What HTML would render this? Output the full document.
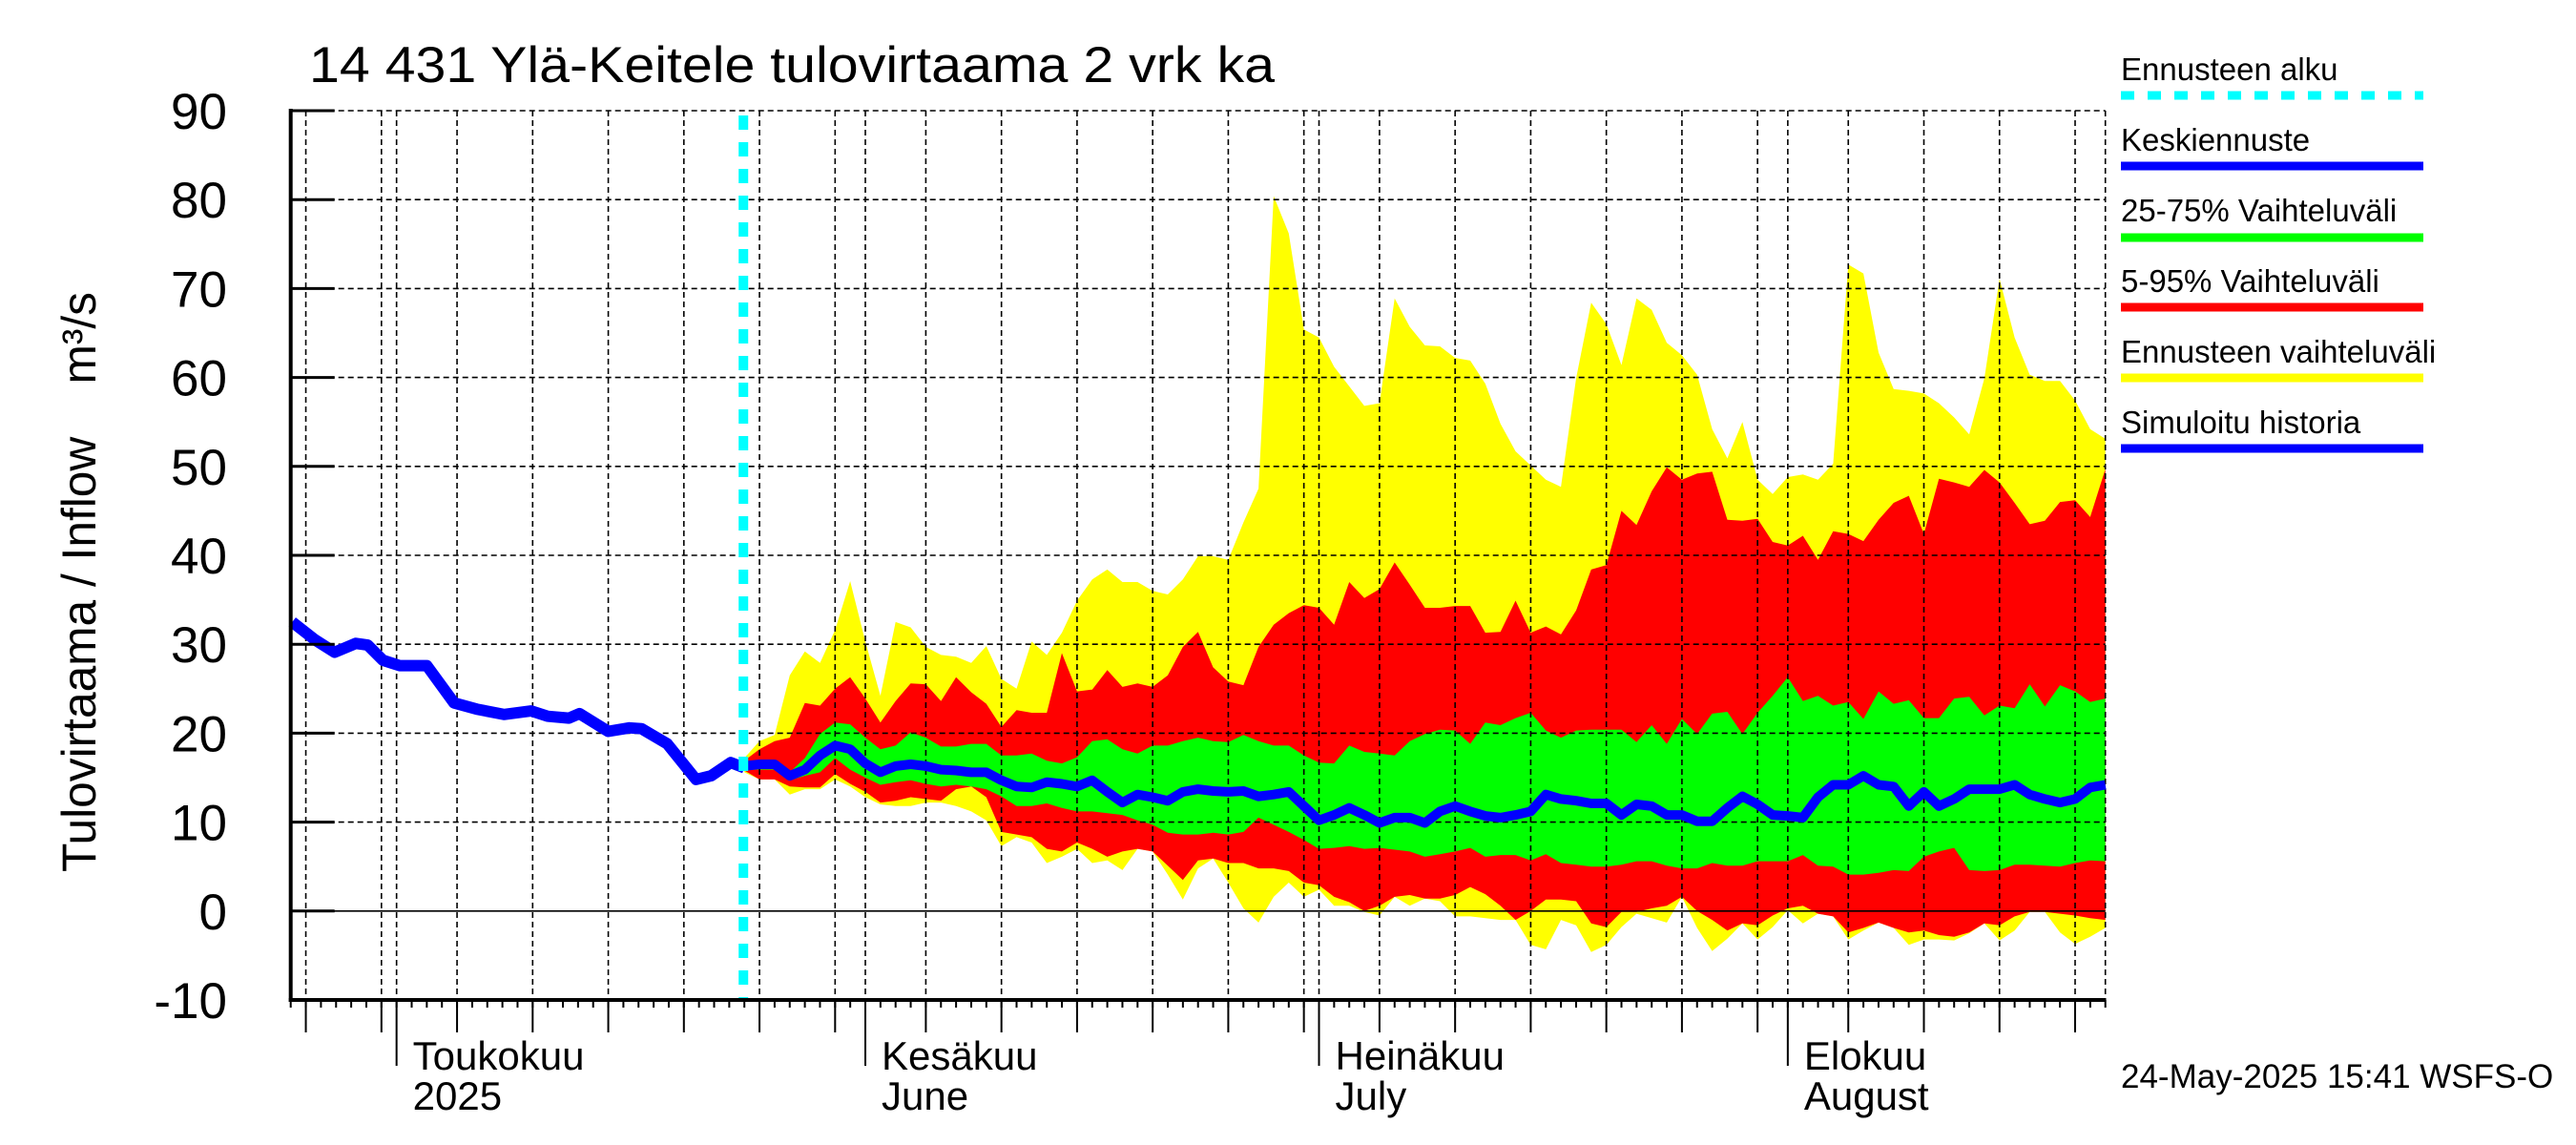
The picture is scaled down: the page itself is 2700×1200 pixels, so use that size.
<!DOCTYPE html>
<html><head><meta charset="utf-8"><title>Ylä-Keitele tulovirtaama</title>
<style>html,body{margin:0;padding:0;background:#fff}svg{display:block}text{font-family:"Liberation Sans",Arial,sans-serif;fill:#000}</style>
</head><body>
<svg id="chart" width="2700" height="1200" viewBox="0 0 2700 1200" xmlns="http://www.w3.org/2000/svg">
<text x="324" y="86" font-size="53" textLength="1012" lengthAdjust="spacingAndGlyphs">14 431 Ylä-Keitele tulovirtaama 2 vrk ka</text>
<text transform="translate(100,610) rotate(-90)" text-anchor="middle" font-size="50" xml:space="preserve" textLength="608" lengthAdjust="spacingAndGlyphs">Tulovirtaama / Inflow    m³/s</text>
<g id="bands"></g><g id="grid"></g><g id="lines"></g><g id="axes"></g>
<g font-size="33">
<text x="2223" y="84">Ennusteen alku</text>
<line x1="2223" y1="100" x2="2540" y2="100" stroke="#00ffff" stroke-width="9" stroke-dasharray="14 14"/>
<text x="2223" y="158">Keskiennuste</text>
<line x1="2223" y1="174" x2="2540" y2="174" stroke="#0000ff" stroke-width="9"/>
<text x="2223" y="232">25-75% Vaihteluväli</text>
<line x1="2223" y1="249" x2="2540" y2="249" stroke="#00ff00" stroke-width="9"/>
<text x="2223" y="306">5-95% Vaihteluväli</text>
<line x1="2223" y1="322" x2="2540" y2="322" stroke="#ff0000" stroke-width="9"/>
<text x="2223" y="380">Ennusteen vaihteluväli</text>
<line x1="2223" y1="396" x2="2540" y2="396" stroke="#ffff00" stroke-width="9"/>
<text x="2223" y="454">Simuloitu historia</text>
<line x1="2223" y1="470" x2="2540" y2="470" stroke="#0000ff" stroke-width="9"/>
</g>
<text x="2223" y="1140" font-size="35">24-May-2025 15:41 WSFS-O</text>
</svg>
<script>
// Data (day index 0 = 24 Apr 2025)
const histDays = [0.1,1.6,2.9,4.3,5.1,6.1,7.2,9.0,10.8,12.3,14.1,15.9,17.0,18.4,19.1,21.0,22.4,23.2,24.9,26.8,27.8,29.1,30.0];
const histVals = [32.5,30.5,29.1,30.1,29.9,28.2,27.6,27.6,23.4,22.7,22.1,22.5,21.9,21.7,22.2,20.2,20.6,20.5,18.8,14.8,15.2,16.7,16.1];
const fcStartDay = 30;
const yTop = [17.2,19.1,19.8,26.5,29.2,27.9,31.6,37.1,30.3,24.2,32.5,31.9,29.7,28.8,28.6,27.9,29.8,26.1,25.0,30.3,28.8,31.3,34.9,37.3,38.4,37.0,37.0,36.0,35.6,37.3,
39.9,39.9,39.5,43.7,47.5,80.4,76.2,65.4,64.5,61.2,59.0,56.8,57.1,68.9,65.7,63.6,63.5,62.2,61.9,59.3,54.8,51.7,50.1,48.5,47.7,59.9,68.4,66.0,61.4,68.9,
67.6,63.9,62.5,60.3,54.2,50.9,55.0,48.5,46.9,48.8,49.1,48.5,50.3,72.7,71.7,62.8,58.7,58.5,58.2,57.1,55.5,53.6,59.9,71.1,64.5,60.3,59.6,59.6,57.4,54.2,53.1];
const rTop = [16.9,18.2,19.1,19.5,23.4,23.1,25.0,26.3,23.9,21.2,23.6,25.6,25.5,23.6,26.3,24.6,23.3,20.7,22.6,22.3,22.3,29.0,24.7,24.9,27.1,25.2,25.6,25.2,26.5,29.7,
31.4,27.4,25.8,25.4,29.7,32.2,33.5,34.4,34.1,32.2,37.0,35.2,36.2,39.2,36.7,34.1,34.1,34.3,34.3,31.3,31.4,34.9,31.3,32.0,31.1,33.8,38.4,38.9,45.0,43.4,
47.2,49.9,48.5,49.2,49.4,44.0,43.9,44.1,41.5,41.1,42.2,39.5,42.7,42.4,41.6,44.0,45.9,46.7,42.4,48.6,48.2,47.7,49.6,48.2,45.9,43.5,43.9,46.0,46.2,44.3,49.7];
const gTop = [16.7,16.9,16.9,15.6,17.2,19.9,21.2,21.0,19.5,18.2,18.6,20.1,19.5,18.5,18.5,18.8,18.8,17.5,17.5,17.7,16.9,16.6,17.3,19.1,19.3,18.2,17.7,18.6,18.6,19.1,
19.5,19.1,19.0,19.8,19.1,18.6,18.6,17.5,16.7,16.6,18.6,17.9,17.7,17.5,19.1,19.9,20.4,20.3,18.8,21.2,20.9,21.7,22.3,20.3,19.5,20.3,20.4,20.4,20.4,19.0,
20.9,18.8,21.6,19.9,22.2,22.4,19.9,22.3,24.2,26.3,23.6,24.2,23.1,23.5,21.6,24.7,23.3,23.7,21.7,21.7,23.9,24.1,22.0,23.1,22.8,25.5,23.0,25.4,24.7,23.5,23.9];
const median = [16.3,16.5,16.5,15.2,15.9,17.5,18.6,18.2,16.6,15.6,16.3,16.5,16.3,15.9,15.8,15.6,15.6,14.7,14.0,13.9,14.5,14.3,14.0,14.7,13.4,12.2,13.1,12.8,12.4,13.4,
13.7,13.5,13.4,13.5,12.9,13.1,13.4,11.8,10.2,10.8,11.6,10.8,9.9,10.5,10.5,9.9,11.2,11.8,11.2,10.7,10.5,10.8,11.2,13.1,12.6,12.4,12.1,12.1,10.8,12.0,
11.8,10.8,10.8,10.1,10.1,11.6,12.9,12.0,10.8,10.7,10.5,12.8,14.2,14.2,15.2,14.2,14.0,11.8,13.4,11.8,12.6,13.7,13.7,13.7,14.2,13.1,12.6,12.2,12.6,13.9,14.2];
const gBot = [15.9,15.9,15.9,14.7,15.2,15.6,17.2,15.9,15.0,14.2,14.5,14.7,14.3,14.0,14.2,14.0,13.7,12.9,11.8,11.8,12.1,11.6,11.2,11.2,11.0,10.8,10.2,9.7,8.8,8.6,
8.6,8.8,8.6,8.9,10.5,9.7,8.9,8.0,7.0,7.1,7.3,7.0,7.1,6.9,6.7,6.1,6.4,6.7,7.1,6.1,6.3,6.3,5.7,6.4,5.4,5.2,5.0,5.0,5.2,5.6,
5.6,5.1,4.8,4.8,5.4,5.1,5.1,5.6,5.6,5.6,6.3,5.1,5.0,4.1,4.1,4.3,4.6,4.5,6.1,6.7,7.1,4.6,4.5,4.6,5.2,5.2,5.1,5.0,5.4,5.7,5.6];
const rBot = [15.8,14.8,14.8,14.0,13.9,13.9,15.4,14.3,13.4,12.2,12.4,12.8,12.6,12.4,13.7,14.0,12.8,8.9,8.6,8.3,7.0,6.7,7.7,7.0,6.1,6.7,7.0,6.7,5.1,3.5,
5.7,5.9,5.4,5.4,4.8,4.8,4.5,3.2,2.9,1.6,1.0,0,0.6,1.6,1.8,1.4,1.4,1.8,2.7,1.9,0.6,-1.0,0,1.3,1.3,1.1,-1.4,-1.8,-0.1,-0.1,
0.3,0.6,1.6,0,-1.0,-2.2,-1.4,-1.6,-0.5,0.3,0.6,-0.3,-0.6,-2.4,-1.9,-1.3,-1.9,-2.4,-2.2,-2.7,-2.9,-2.4,-1.4,-1.6,-0.6,-0.1,-0.1,-0.3,-0.5,-0.8,-1.0];
const yBot = [15.6,14.8,14.8,13.1,13.7,13.7,14.8,14.0,12.8,12.0,11.8,11.8,12.2,12.2,11.8,11.2,10.2,7.3,8.3,7.7,5.4,6.1,7.0,5.4,5.7,4.6,7.0,6.7,4.1,1.3,
4.8,5.9,3.2,0.3,-1.3,1.6,3.2,1.6,2.4,0.6,0.6,-0.1,-0.5,1.6,0.6,1.4,1.1,-0.6,-0.6,-0.8,-1.0,-1.0,-3.8,-4.3,-1.0,-1.6,-4.6,-3.8,-1.8,-0.3,
-0.8,-1.3,1.6,-1.9,-4.5,-3.1,-1.4,-3.2,-1.8,0.1,-1.4,-0.3,-0.6,-3.2,-2.2,-1.3,-1.9,-3.8,-3.2,-3.2,-3.3,-2.5,-1.4,-3.3,-2.2,-0.1,-0.1,-2.4,-3.7,-2.9,-1.9];
const yTicks = [90,80,70,60,50,40,30,20,10,0,-10];
const monthStarts = [7,38,68,99];
const monthNames = ["Toukokuu","Kesäkuu","Heinäkuu","Elokuu"];
const monthNames2 = ["2025","June","July","August"];
const monthOffsets = [-23,7,38,68,99]; // day index of 1st of Apr..Aug
const gridDaysOfMonth = [1,5,10,15,20,25,30];

const NS="http://www.w3.org/2000/svg";
const X0=304.7, DX=15.85, YB=1048, DY=9.32, DMAX=120;
function X(d){return X0+DX*d;}
function Y(v){return YB-(v+10)*DY;}
function mk(tag,attrs,parent){const e=document.createElementNS(NS,tag);for(const k in attrs)e.setAttribute(k,attrs[k]);parent.appendChild(e);return e;}
const bands=document.getElementById('bands'),grid=document.getElementById('grid'),lines=document.getElementById('lines'),axes=document.getElementById('axes');

function band(top,bot,color,name){
  let pts=[];
  top.forEach((v,i)=>pts.push(X(fcStartDay+i).toFixed(1)+','+Y(v).toFixed(1)));
  for(let i=bot.length-1;i>=0;i--)pts.push(X(fcStartDay+i).toFixed(1)+','+Y(bot[i]).toFixed(1));
  const p=mk('polygon',{points:pts.join(' '),fill:color},bands);
  
  
}
band(yTop,yBot,'#ffff00','band-forecast-range');
band(rTop,rBot,'#ff0000','band-5-95');
band(gTop,gBot,'#00ff00','band-25-75');

yTicks.forEach(v=>{
  if(v===-10)return;
  const l=mk('line',{x1:X0,x2:X(DMAX),y1:Y(v),y2:Y(v),stroke:'#000','stroke-width':1.6,'stroke-dasharray':v===0?'none':'6 4'},grid);
  
  
  const t=mk('line',{x1:X0,x2:X0+46,y1:Y(v),y2:Y(v),stroke:'#000','stroke-width':3},axes);
  
  
});
yTicks.forEach(v=>{
  const tx=mk('text',{x:238,y:Y(v)+19,'text-anchor':'end','font-size':53},axes);
  tx.textContent=String(v);
  
  
});
const gridDays=[];
monthOffsets.forEach(m=>{
  gridDaysOfMonth.forEach(dom=>{const d=m+dom-1;if(d>0&&d<DMAX)gridDays.push({d:d,month:dom===1});});
});
gridDays.forEach(g=>{
  const l=mk('line',{x1:X(g.d),x2:X(g.d),y1:Y(90),y2:YB,stroke:'#000','stroke-width':1.6,'stroke-dasharray':'6 4'},grid);
  
  
  const t=mk('line',{x1:X(g.d),x2:X(g.d),y1:YB,y2:YB+(g.month?69:34),stroke:'#000','stroke-width':2},axes);
  
  
});
for(let d=0;d<=DMAX;d++){
  const t=mk('line',{x1:X(d),x2:X(d),y1:YB,y2:YB+8,stroke:'#000','stroke-width':2},axes);
  
  
}
const rb=mk('line',{x1:X(DMAX),x2:X(DMAX),y1:Y(90),y2:YB,stroke:'#000','stroke-width':1.6,'stroke-dasharray':'6 4'},grid);


monthStarts.forEach((d,i)=>{
  const t1=mk('text',{x:X(d)+17,y:1121,'font-size':42},axes);
  t1.textContent=monthNames[i];
  
  
  const t2=mk('text',{x:X(d)+17,y:1163,'font-size':42},axes);
  t2.textContent=monthNames2[i];
  
  
});
const ax1=mk('line',{x1:X0,x2:X0,y1:Y(90)-2,y2:YB+2,stroke:'#000','stroke-width':4},axes);


const ax2=mk('line',{x1:X0-2,x2:X(DMAX),y1:YB,y2:YB,stroke:'#000','stroke-width':4},axes);



const hp=histDays.map((d,i)=>X(d).toFixed(1)+','+Y(histVals[i]).toFixed(1)).join(' ');
const h=mk('polyline',{points:hp,fill:'none',stroke:'#0000ff','stroke-width':12,'stroke-linejoin':'round'},lines);


const mp=median.map((v,i)=>X(fcStartDay+i).toFixed(1)+','+Y(v).toFixed(1)).join(' ');
const m=mk('polyline',{points:mp,fill:'none',stroke:'#0000ff','stroke-width':10,'stroke-linejoin':'round'},lines);


const c=mk('line',{x1:X(fcStartDay)-1,x2:X(fcStartDay)-1,y1:Y(90)+5,y2:YB,stroke:'#00ffff','stroke-width':10,'stroke-dasharray':'15 13'},lines);


</script>
</body></html>
